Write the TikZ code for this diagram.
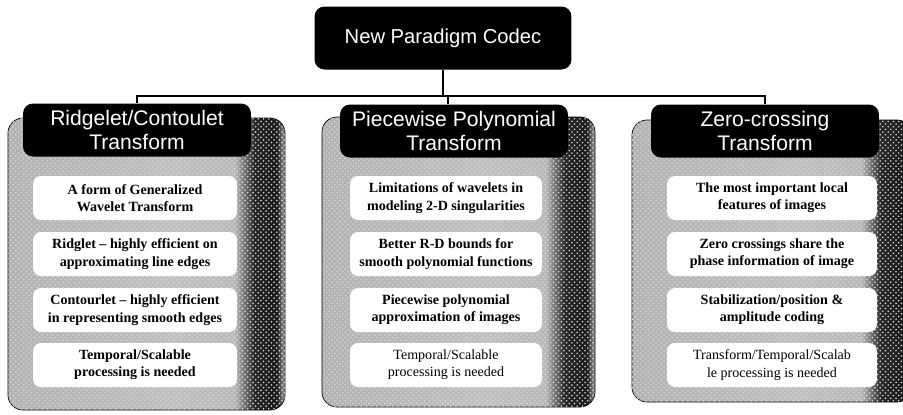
\documentclass[tikz,border=0pt]{standalone}
\usepackage{fontspec}
\setmainfont{Liberation Serif}
\newfontfamily\hdfont{Liberation Sans}
\usetikzlibrary{patterns}
\pgfdeclarehorizontalshading{panelshade}{100bp}{color(0bp)=(gray!60); color(25bp)=(gray!60); color(55bp)=(gray!50); color(66bp)=(gray!55); color(69.5bp)=(black!85); color(73.5bp)=(black!90); color(75bp)=(gray!70); color(100bp)=(gray!70)}
\tikzset{
	panel/.style={shading=panelshade, rounded corners=0.3cm},
	stipple/.style={pattern=crosshatch dots, pattern color=white!70!gray, rounded corners=0.3cm},
	hdbox/.style={fill=black, text=white, rounded corners=0.2cm, inner sep=0pt,
		minimum width=4.56cm, minimum height=1.06cm, align=center,
		font=\hdfont\fontsize{12}{14}\selectfont},
	itembox/.style={fill=white, rounded corners=0.16cm, inner sep=1pt,
		minimum height=0.88cm, align=center,
		font=\bfseries\fontsize{8}{9.8}\selectfont},
	bus/.style={line width=1.3pt}
}
\begin{document}
\begin{tikzpicture}[x=0.02cm, y=-0.02cm]
		\useasboundingbox (0,0) rectangle (903,414);
		
		\node [hdbox, minimum width=5.14cm, minimum height=1.26cm, font=\hdfont\fontsize{11.5}{14}\selectfont] (codec) at (443,38) {New Paradigm Codec};
		
		\draw [panel] (8,118) rectangle (285,410);
		\draw [panel] (322,117) rectangle (595,407);
		\draw [panel] (632,120) rectangle (912,402);
		\fill [stipple] (8,118) rectangle (285,410);
		\fill [stipple] (322,117) rectangle (595,407);
		\fill [stipple] (632,120) rectangle (912,402);
		
		\node [hdbox] (ridge) at (137,130) {Ridgelet/Contoulet\\Transform};
		\node [hdbox] (poly) at (454,131) {Piecewise Polynomial\\Transform};
		\node [hdbox] (zero) at (765,131) {Zero-crossing\\Transform};
		
		\coordinate (split) at (443,96);
		\draw [bus] (codec.south) -- (codec.south |- split);
		\draw [bus] (ridge.north) |- (zero.north |- split) -- (zero.north);
		\draw [bus] (poly.north -| 448,0) -- (split -| 448,0);
		
		\node [itembox, minimum width=4.08cm] (r1) at (135,198) {A form of Generalized\\Wavelet Transform};
		\node [itembox, minimum width=4.08cm] (r2) at (135,254) {Ridglet -- highly efficient on\\approximating line edges};
		\node [itembox, minimum width=4.08cm] (r3) at (135,310) {Contourlet -- highly efficient\\in representing smooth edges};
		\node [itembox, minimum width=4.08cm] (r4) at (135,365) {Temporal/Scalable\\processing is needed};
		
		\node [itembox, minimum width=3.84cm] (p1) at (446,198) {Limitations of wavelets in\\modeling 2-D singularities};
		\node [itembox, minimum width=3.84cm] (p2) at (446,254) {Better R-D bounds for\\smooth polynomial functions};
		\node [itembox, minimum width=3.84cm] (p3) at (446,310) {Piecewise polynomial\\approximation of images};
		\node [itembox, minimum width=3.84cm, font=\fontsize{8}{9.8}\selectfont] (p4) at (446,365) {Temporal/Scalable\\processing is needed};
		
		\node [itembox, minimum width=4.2cm] (z1) at (772,198) {The most important local\\features of images};
		\node [itembox, minimum width=4.2cm] (z2) at (772,254) {Zero crossings share the\\phase information of image};
		\node [itembox, minimum width=4.2cm] (z3) at (772,310) {Stabilization/position \&\\amplitude coding};
		\node [itembox, minimum width=4.2cm, font=\fontsize{8}{9.8}\selectfont] (z4) at (772,365) {Transform/Temporal/Scalab\\le processing is needed};
	\end{tikzpicture}
\end{document}
